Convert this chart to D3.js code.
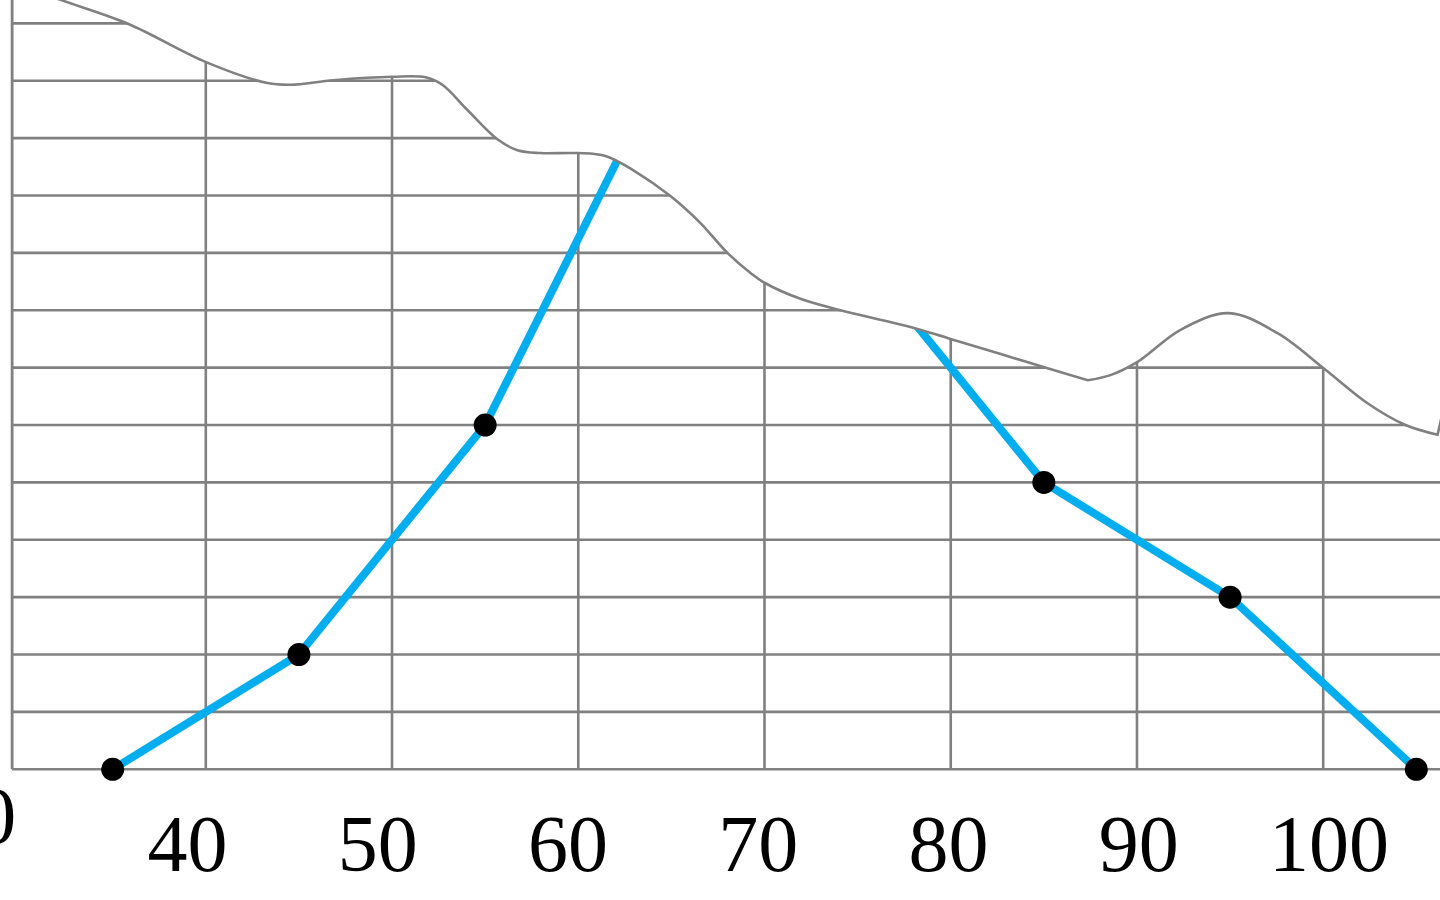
<!DOCTYPE html>
<html>
<head>
<meta charset="utf-8">
<script src="https://cdn.jsdelivr.net/npm/d3@7"></script>
<style>
  html, body { margin: 0; padding: 0; background: #ffffff; overflow: hidden; }
  svg { display: block; }
</style>
</head>
<body>
<svg id="chart" width="1440" height="900"></svg>
<script>
// ---- data ----
const classMidpoints = [35, 45, 55, 65, 75, 85, 95, 105];
const frequencies    = [0, 2, 6, 12.5, 9, 5, 3, 0];
const xTickValues = [40, 50, 60, 70, 80, 90, 100];
const xTickLabels = ["40", "50", "60", "70", "80", "90", "100"];
const yGridValues = [0, 1, 2, 3, 4, 5, 6, 7, 8, 9, 10, 11, 12, 13];
const yTickValues = [0];
const yTickLabels = ["0"];
const xAxisStart = 29.6;
const xAxisEnd = 108;
// torn edge of the cropped chart (data coordinates)
const tornEdgeA = [[28.44,13.84],[32.20,13.41],[35.85,12.99],[39.98,12.33],[43.31,11.96],[44.55,11.93],
  [46.86,12.01],[50.03,12.07],[51.80,12.06],[52.70,11.93],[54.05,11.49],[55.66,10.98],[56.73,10.79],
  [57.97,10.74],[59.96,10.74],[61.46,10.69],[62.96,10.44],[64.95,9.99],[66.56,9.52],[68.01,9.00],
  [69.25,8.65],[70.00,8.48],[71.93,8.20],[74.08,8.00],[77.84,7.71],[79.99,7.50],[85.20,6.99],[87.35,6.78]];
const tornEdgeB = [[87.35,6.78],[88.58,6.87],[90.03,7.10],[92.34,7.66],[94.92,7.95],[97.55,7.60],
  [100.02,6.99],[102.38,6.38],[104.42,6.00],[106.14,5.83]];
const tornEdgeC = [[106.14,5.83],[106.57,6.44]];

// ---- scales ----
const x = d3.scaleLinear().domain([40, 100]).range([205.8, 1323.2]);
const y = d3.scaleLinear().domain([0, 13]).range([769.3, 23.4]);
const xLabel = d3.scaleLinear().domain([40, 100]).range([187.5, 1329]);

const svg = d3.select("#chart");
const GRID = "#808080";

// torn edge path
const smooth = d3.line().x(d => x(d[0])).y(d => y(d[1])).curve(d3.curveCatmullRom.alpha(0.5));
const straight = d3.line().x(d => x(d[0])).y(d => y(d[1]));
const edgePath = smooth(tornEdgeA) + smooth(tornEdgeB).replace(/^M/, "L") + straight(tornEdgeC).replace(/^M/, "L");

svg.append("defs").append("clipPath").attr("id", "below-edge")
  .append("path")
  .attr("d", edgePath + `L${x(xAxisEnd) + 40},${y(-3)}L${x(xAxisStart) - 60},${y(-3)}Z`);

const plot = svg.append("g").attr("clip-path", "url(#below-edge)");

// horizontal grid lines
plot.append("g").selectAll("line").data(yGridValues).join("line")
  .attr("x1", x(xAxisStart)).attr("x2", x(xAxisEnd))
  .attr("y1", d => y(d)).attr("y2", d => y(d))
  .attr("stroke", GRID).attr("stroke-width", 2.6);

// vertical grid lines
plot.append("g").selectAll("line").data(xTickValues).join("line")
  .attr("x1", d => x(d)).attr("x2", d => x(d))
  .attr("y1", y(0)).attr("y2", y(14))
  .attr("stroke", GRID).attr("stroke-width", 2.6);

// left axis line
plot.append("line")
  .attr("x1", x(xAxisStart)).attr("x2", x(xAxisStart))
  .attr("y1", y(0)).attr("y2", y(15))
  .attr("stroke", GRID).attr("stroke-width", 2.8);

// frequency polygon
const poly = d3.line().x((d, i) => x(classMidpoints[i])).y(d => y(d));
plot.append("path")
  .attr("d", poly(frequencies))
  .attr("fill", "none").attr("stroke", "#00AEEF")
  .attr("stroke-width", 8).attr("stroke-linejoin", "round");

// torn edge stroke
svg.append("path").attr("d", edgePath)
  .attr("fill", "none").attr("stroke", GRID).attr("stroke-width", 2.6);

// points
plot.append("g").selectAll("circle").data(frequencies).join("circle")
  .attr("cx", (d, i) => x(classMidpoints[i]))
  .attr("cy", d => y(d))
  .attr("r", 11.5).attr("fill", "#000");

// x tick labels
svg.append("g").selectAll("text").data(xTickValues).join("text")
  .attr("x", d => xLabel(d)).attr("y", 871)
  .attr("text-anchor", "middle")
  .attr("font-family", "'Liberation Serif', 'DejaVu Serif', serif")
  .attr("font-size", 80).attr("fill", "#000")
  .text((d, i) => xTickLabels[i]);

// y tick label (origin), partly outside the crop as in the reference
svg.append("g").selectAll("text").data(yTickValues).join("text")
  .attr("x", x(xAxisStart) + 4).attr("y", d => y(d) + 74)
  .attr("text-anchor", "end")
  .attr("font-family", "'Liberation Serif', 'DejaVu Serif', serif")
  .attr("font-size", 80).attr("fill", "#000")
  .text((d, i) => yTickLabels[i]);
</script>
</body>
</html>
